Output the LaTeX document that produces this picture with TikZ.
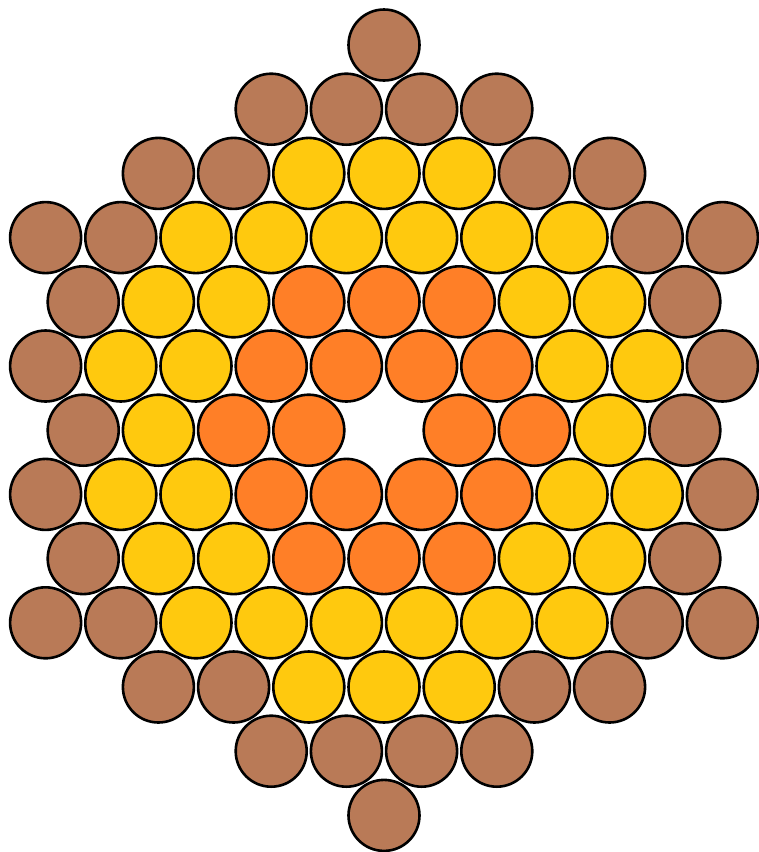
\documentclass[tikz,border=0pt]{standalone}
\definecolor{cbrown}{HTML}{B97A57}
\definecolor{cgold}{HTML}{FFC90E}
\definecolor{corange}{HTML}{FF7F27}
\tikzset{
  ball/.style={circle, draw=black, line width=2.6pt, minimum size=71pt, inner sep=0pt},
  ballB/.style={ball, fill=cbrown},
  ballY/.style={ball, fill=cgold},
  ballO/.style={ball, fill=corange},
  ballN/.style={draw=none, fill=none, inner sep=0pt, minimum size=0pt},
}
\begin{document}
\begin{tikzpicture}[x=1pt,y=-1pt]
\fill[white] (0,0) rectangle (759,852);
\useasboundingbox (0,0) rectangle (759,852);
\foreach \r/\s/\codes in {
  0/0/{B},
  1/-3/{B,B,B,B},
  2/-6/{B,B,Y,Y,Y,B,B},
  3/-9/{B,B,Y,Y,Y,Y,Y,Y,B,B},
  4/-8/{B,Y,Y,O,O,O,Y,Y,B},
  5/-9/{B,Y,Y,O,O,O,O,Y,Y,B},
  6/-8/{B,Y,O,O,N,O,O,Y,B},
  7/-9/{B,Y,Y,O,O,O,O,Y,Y,B},
  8/-8/{B,Y,Y,O,O,O,Y,Y,B},
  9/-9/{B,B,Y,Y,Y,Y,Y,Y,B,B},
  10/-6/{B,B,Y,Y,Y,B,B},
  11/-3/{B,B,B,B},
  12/0/{B}}{
  \foreach \c [count=\i from 0] in \codes {
    \pgfmathsetmacro{\xx}{384+(\s+2*\i)*37.6}
    \pgfmathsetmacro{\yy}{45+\r*64.2}
    \node[ball\c] (c-\r-\i) at (\xx,\yy) {};
  }
}
\end{tikzpicture}
\end{document}
